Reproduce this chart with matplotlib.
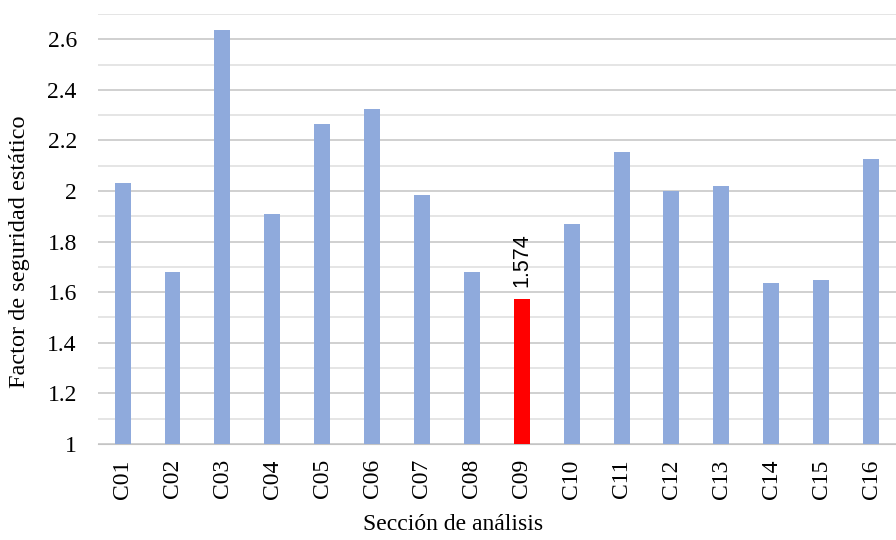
import matplotlib.pyplot as plt
from matplotlib.ticker import MultipleLocator

# Section labels and static safety factor
secciones = ['C01', 'C02', 'C03', 'C04', 'C05', 'C06', 'C07', 'C08',
             'C09', 'C10', 'C11', 'C12', 'C13', 'C14', 'C15', 'C16']
factor = [2.03, 1.68, 2.635, 1.91, 2.265, 2.325, 1.985, 1.68,
          1.574, 1.87, 2.155, 2.00, 2.018, 1.637, 1.648, 2.127]
critica = 'C09'

plt.rcParams['font.family'] = ['Liberation Serif', 'DejaVu Serif']

fig = plt.figure(figsize=(8.96, 5.4), dpi=100)
ax = fig.add_axes([0.109, 0.178, 0.891, 0.796])

colores = ['#ff0000' if s == critica else '#8faadc' for s in secciones]
x = list(range(len(secciones)))
ax.bar(x, factor, width=0.32, color=colores, zorder=3)

# label on the critical bar
i = secciones.index(critica)
ax.text(x[i], factor[i] + 0.045, f'{factor[i]:.3f}', rotation=90,
        ha='center', va='bottom', fontsize=15.5, family=['Liberation Sans'])

ax.set_ylim(1, 2.7)
ax.set_xlim(-0.5, len(secciones) - 0.5)
ax.yaxis.set_minor_locator(MultipleLocator(0.1))
ax.set_yticks([1, 1.2, 1.4, 1.6, 1.8, 2, 2.2, 2.4, 2.6])
ax.set_yticklabels(['1', '1.2', '1.4', '1.6', '1.8', '2', '2.2', '2.4', '2.6'])
ax.grid(axis='y', which='major', color='#c4c4c4', linewidth=1.1, zorder=0)
ax.grid(axis='y', which='minor', color='#dedede', linewidth=1.1, zorder=0)

ax.set_xticks(x)
ax.set_xticklabels(secciones, rotation=90)
ax.tick_params(axis='both', which='both', length=0, labelsize=17)
ax.tick_params(axis='x', pad=11)
ax.tick_params(axis='y', pad=15)

for lado in ['top', 'right', 'left']:
    ax.spines[lado].set_visible(False)
ax.spines['bottom'].set_color('#c4c4c4')

ax.set_xlabel('Sección de análisis', fontsize=17, va='center')
ax.set_ylabel('Factor de seguridad estático', fontsize=17.5, va='center')
ax.xaxis.set_label_coords(0.506, 0.028, transform=fig.transFigure)
ax.yaxis.set_label_coords(0.022, 0.533, transform=fig.transFigure)

fig.savefig('out.png', dpi=100)
